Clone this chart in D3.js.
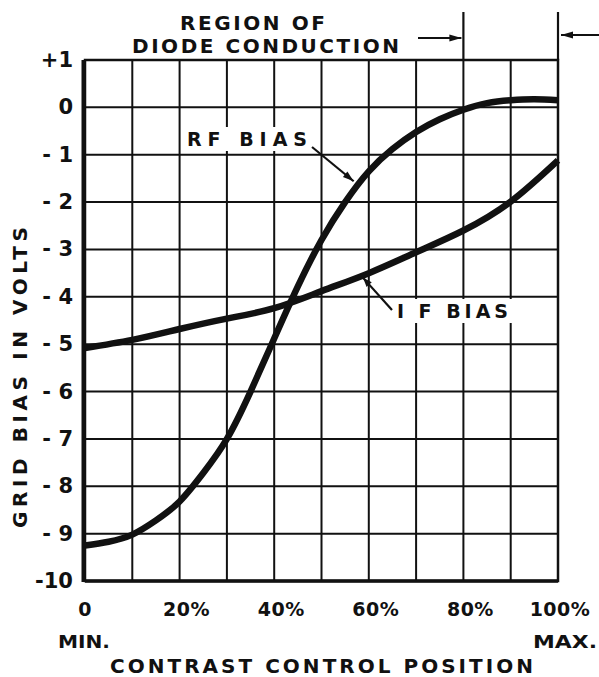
<!DOCTYPE html>
<html>
<head>
<meta charset="utf-8">
<script src="https://cdn.jsdelivr.net/npm/d3@7"></script>
<style>
  html, body { margin: 0; padding: 0; background: #fff; }
  svg { display: block; }
  text { font-family: "DejaVu Sans", "Liberation Sans", sans-serif; font-weight: bold; fill: #111; }
</style>
</head>
<body>
<svg id="chart" width="599" height="677"></svg>
<script>
// Contrast control position (percent of rotation)
const rfPos  = [0, 5, 10, 15, 20, 25, 30, 35, 40, 45, 50, 55, 60, 65, 70, 75, 80, 85, 90, 95, 100];
// R-F grid bias, volts
const rfBias = [-9.25, -9.17, -9.02, -8.72, -8.32, -7.72, -7.0, -6.0, -4.88, -3.78, -2.8, -2.0, -1.35, -0.88, -0.52, -0.25, -0.05, 0.09, 0.15, 0.17, 0.15];
// I-F grid bias, volts
const ifPos  = [0, 10, 20, 30, 40, 50, 60, 70, 80, 90, 100];
const ifBias = [-5.08, -4.91, -4.68, -4.46, -4.24, -3.88, -3.5, -3.06, -2.6, -1.99, -1.12];

const xTicks = [0, 20, 40, 60, 80, 100];
const xTickLabels = ["0", "20%", "40%", "60%", "80%", "100%"];
const yTicks = [1, 0, -1, -2, -3, -4, -5, -6, -7, -8, -9, -10];
const yTickLabels = ["+1", "0", "- 1", "- 2", "- 3", "- 4", "- 5", "- 6", "- 7", "- 8", "- 9", "-10"];

const svg = d3.select("#chart");
const x = d3.scaleLinear().domain([0, 100]).range([85, 558]);
const y = d3.scaleLinear().domain([-10, 1]).range([581, 60]);

// grid
const grid = svg.append("g").attr("stroke", "#111").attr("stroke-width", 2);
grid.selectAll("line.v").data(d3.range(0, 101, 10)).join("line")
  .attr("x1", d => x(d)).attr("x2", d => x(d))
  .attr("y1", y(1)).attr("y2", y(-10));
grid.selectAll("line.h").data(d3.range(-10, 2, 1)).join("line")
  .attr("x1", x(0)).attr("x2", x(100))
  .attr("y1", d => y(d)).attr("y2", d => y(d));
// heavier frame
svg.append("rect")
  .attr("x", x(0)).attr("y", y(1))
  .attr("width", x(100) - x(0)).attr("height", y(-10) - y(1))
  .attr("fill", "none").attr("stroke", "#111").attr("stroke-width", 2.5);
svg.append("line").attr("x1", x(0) - 1.5).attr("x2", x(0) - 1.5)
  .attr("y1", y(1)).attr("y2", y(-10) + 1).attr("stroke", "#111").attr("stroke-width", 4);
svg.append("line").attr("x1", x(0)).attr("x2", x(100))
  .attr("y1", y(-10)).attr("y2", y(-10)).attr("stroke", "#111").attr("stroke-width", 3.5);

// y tick labels
svg.append("g").selectAll("text").data(yTicks).join("text")
  .attr("x", 73).attr("y", d => y(d) + 7)
  .attr("text-anchor", "end").attr("font-size", 21)
  .text((d, i) => yTickLabels[i]);

// x tick labels
svg.append("g").selectAll("text").data(xTicks).join("text")
  .attr("x", d => x(d) + (d === 0 ? 0 : d === 100 ? 2 : 7))
  .attr("y", 616).attr("text-anchor", "middle").attr("font-size", 19)
  .attr("letter-spacing", 0.5)
  .text((d, i) => xTickLabels[i]);

svg.append("text").attr("x", 58).attr("y", 648).attr("font-size", 18)
  .attr("textLength", 52).attr("lengthAdjust", "spacingAndGlyphs").text("MIN.");
svg.append("text").attr("x", 533).attr("y", 648).attr("font-size", 18)
  .attr("textLength", 64).attr("lengthAdjust", "spacingAndGlyphs").text("MAX.");
svg.append("text").attr("x", 110).attr("y", 673).attr("font-size", 20)
  .attr("textLength", 423).attr("lengthAdjust", "spacing").text("CONTRAST CONTROL POSITION");
svg.append("text").attr("transform", "translate(27,528) rotate(-90)")
  .attr("font-size", 20).attr("textLength", 301).attr("lengthAdjust", "spacing")
  .text("GRID BIAS IN VOLTS");

// curves
const line = d3.line().curve(d3.curveNatural);
svg.append("path")
  .attr("d", line(rfPos.map((p, i) => [x(p), y(rfBias[i])])))
  .attr("fill", "none").attr("stroke", "#111").attr("stroke-width", 6.5).attr("stroke-linecap", "butt");
svg.append("path")
  .attr("d", line(ifPos.map((p, i) => [x(p), y(ifBias[i])])))
  .attr("fill", "none").attr("stroke", "#111").attr("stroke-width", 6.5).attr("stroke-linecap", "butt");

// arrowhead helper
function arrow(g, x1, y1, x2, y2, head, w) {
  g.append("line").attr("x1", x1).attr("y1", y1).attr("x2", x2).attr("y2", y2)
    .attr("stroke", "#111").attr("stroke-width", 2.2);
  const a = Math.atan2(y2 - y1, x2 - x1);
  const p = [
    [x2, y2],
    [x2 - head * Math.cos(a) + w * Math.sin(a), y2 - head * Math.sin(a) - w * Math.cos(a)],
    [x2 - head * Math.cos(a) - w * Math.sin(a), y2 - head * Math.sin(a) + w * Math.cos(a)]
  ];
  g.append("path").attr("d", "M" + p.join("L") + "Z").attr("fill", "#111");
}

// curve labels with white backing
const ann = svg.append("g");
function label(txt, x0, base, len) {
  ann.append("rect").attr("x", x0 - 4).attr("y", base - 19).attr("width", len + 8).attr("height", 24).attr("fill", "#fff");
  ann.append("text").attr("x", x0).attr("y", base).attr("font-size", 19)
    .attr("textLength", len).attr("lengthAdjust", "spacing").text(txt);
}
label("RF BIAS", 187, 146, 120);
arrow(ann, 312, 147, x(56.8), y(-1.56), 11, 3.5);
label("I F BIAS", 397, 318, 111);
arrow(ann, 392, 310, x(58.8), y(-3.6), 9, 3.5);

// region of diode conduction
const region = svg.append("g");
region.append("text").attr("x", 180).attr("y", 30).attr("font-size", 20)
  .attr("textLength", 145).attr("lengthAdjust", "spacing").text("REGION OF");
region.append("text").attr("x", 132).attr("y", 53).attr("font-size", 20)
  .attr("textLength", 267).attr("lengthAdjust", "spacing").text("DIODE CONDUCTION");
region.append("line").attr("x1", x(80)).attr("x2", x(80)).attr("y1", 12).attr("y2", y(1))
  .attr("stroke", "#111").attr("stroke-width", 2.2);
region.append("line").attr("x1", x(100)).attr("x2", x(100)).attr("y1", 12).attr("y2", y(1))
  .attr("stroke", "#111").attr("stroke-width", 2.2);
arrow(region, 418, 38, x(80) - 2, 38, 12, 3.5);
arrow(region, 599, 35, x(100) + 3, 35, 12, 3.5);
</script>
</body>
</html>
